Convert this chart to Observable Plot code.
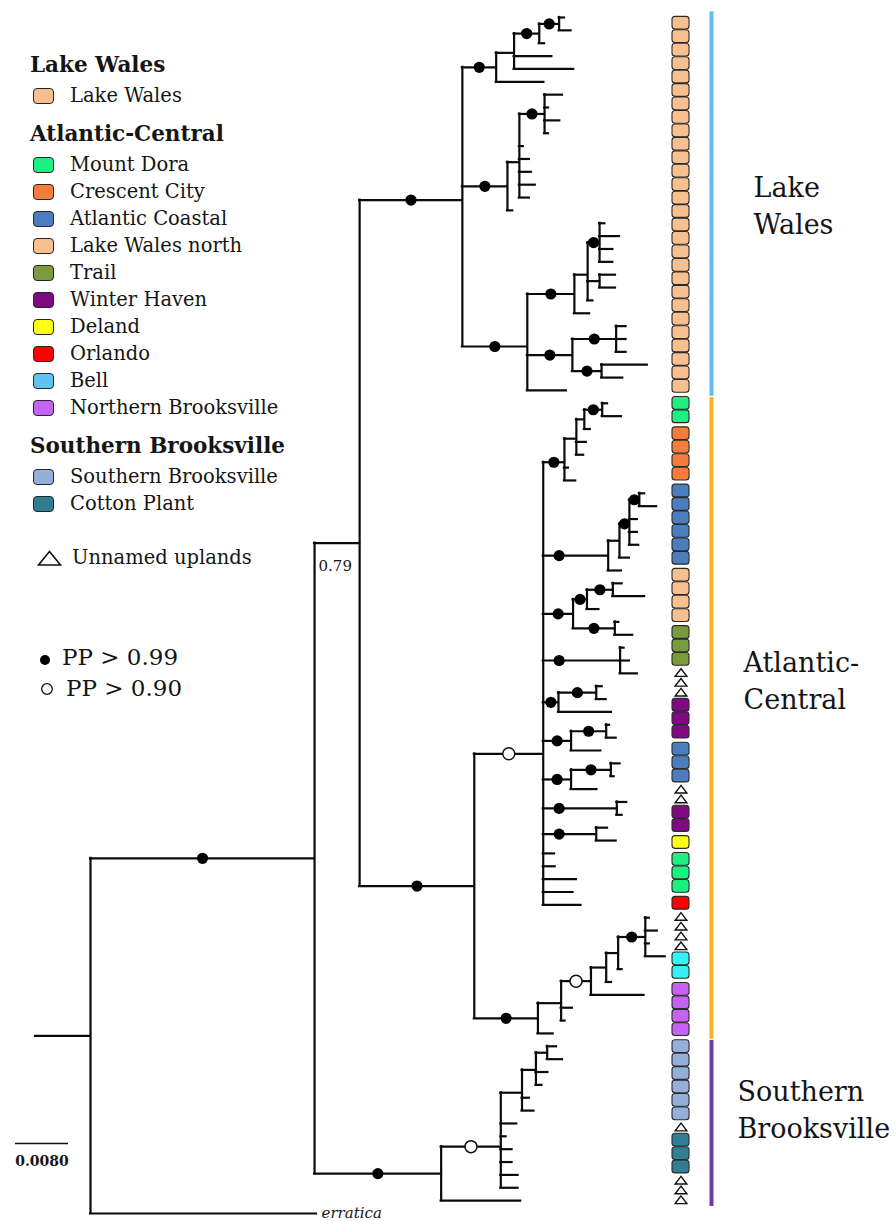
<!DOCTYPE html>
<html>
<head>
<meta charset="utf-8">
<script src="https://cdn.jsdelivr.net/npm/d3@7"></script>
<script src="https://cdn.jsdelivr.net/npm/@observablehq/plot@0.6"></script>
<style>
  html,body{margin:0;padding:0;background:#fff;}
  #wrap{position:relative;width:896px;height:1221px;overflow:hidden;font-family:"DejaVu Serif",serif;color:#151515;}
  #chart svg{display:block}
  .lg{position:absolute;white-space:nowrap;}
</style>
</head>
<body>
<div id="wrap"><div id="chart"></div></div>
<script>
// ---------------- DATA ----------------
// Tree in Newick pieces; branch lengths in 1e-4 substitutions/site, node labels = posterior probability
const lakeWalesA = "((((:8,:18)1:30,:8)1:38,:57,:90):27,:72)1:51";
const lakeWalesB = "(((:27,:6,:23,:6)1:38,:6,:15,:18,:24,:15):18,:8)1:68";
const lakeWalesC = "((((:8,:30,:20,:20)1:18,(:24,:24):18,:8):20,:23)1:71,((:15,:15,:15)1:66,(:69,:32)1:44)1:68,:59)1:98";
const acMountDora = "((((:8,:29)1:27,:9):12,:15,:11):18,:6,:17)1:32";
const acCoastal = "((((:8,:26)1:15,:12,:12,:14)1:15,:15):17,:20)1:98";
const acLakeWalesNorth = "(((:14,:48)1:39,:18)1:21,(:6,:27)1:63)1:45";
const acTrail = "(:6,:14,:26)1:116";
const acUplands = "((:9,:15)1:57,:80)1:23";
const acWinterHaven = "((:5,:15)1:53,:45)1:42";
const acCoastal2 = "((:14,:5)1:60,:39)1:42";
const acUplands2 = "(:15,:8)1:111";
const acWinterHaven2 = "(:17,:30)1:80";
const acSingles = [":17", ":18", ":50", ":45", ":57"];
const northern = "((((((:6,:18,:6,:30)1:41,:6):18,:8):23,:80)0.95:45,:17,:6):35,:23)1:96";
const southern = "(((((:14,:23):17,:18,:9):21,:11,:18):32,:24,:8,:17,:17,:26,:26)0.95:90,:120)1:191";

const lakeWales = "(" + [lakeWalesA, lakeWalesB, lakeWalesC].join(",") + ")1:155";
const polytomy = "(" + [acMountDora, acCoastal, acLakeWalesNorth, acTrail, acUplands, acWinterHaven,
  acCoastal2, acUplands2, acWinterHaven2, ...acSingles].join(",") + ")0.95:104";
const atlanticCentral = "(" + polytomy + "," + northern + ")1:173";
const newick = "(((" + lakeWales + "," + atlanticCentral + ")0.79:68," + southern + ")1:338,erratica:341):83;";

// Tip strip: population of each sample (U = unnamed uplands)
const tileGroups = [["LW",28],["MD",2],["CC",4],["AC",6],["LWN",4],["TR",3],["U",3],["WH",3],["AC",3],
  ["U",2],["WH",2],["DE",1],["MD",3],["OR",1],["U",4],["BE",2],["NB",4],["SB",6],["U",1],["CP",3],["U",3]];

const categoryCodes  = ["LW","MD","CC","AC","LWN","TR","WH","DE","OR","BE","NB","SB","CP"];
const categoryNames  = ["Lake Wales","Mount Dora","Crescent City","Atlantic Coastal","Lake Wales north","Trail",
  "Winter Haven","Deland","Orlando","Bell","Northern Brooksville","Southern Brooksville","Cotton Plant"];
const categoryColors = ["#f9c08f","#1cf07f","#f57d3b","#4b7dbf","#f9c08f","#799b3c",
  "#7e0a82","#ffff14","#fe0000","#36eff7","#c462f4","#94afd8","#2f7e93"];
const legendColors   = ["#f9c08f","#1cf07f","#f57d3b","#4b7dbf","#f9c08f","#799b3c",
  "#7e0a82","#ffff14","#fe0000","#5ec5f3","#c462f4","#94afd8","#2f7e93"];

const legendTitles = ["Lake Wales", "Atlantic-Central", "Southern Brooksville"];
const legendItems  = [["LW"], ["MD","CC","AC","LWN","TR","WH","DE","OR","BE","NB"], ["SB","CP"]];

const cladeNames  = ["Lake\nWales", "Atlantic-\nCentral", "Southern\nBrooksville"];
const cladeColors = ["#5fbff0", "#f5b520", "#6c3d9f"];
const scaleBarValue = 80; // 0.0080 subs/site in 1e-4 units
const scaleBarLabel = "0.0080";

// ---------------- PARSE / LAYOUT ----------------
function parseNewick(s) {
  let i = 0;
  function node() {
    const n = {children: [], name: "", label: "", length: 0};
    if (s[i] === "(") {
      i++;
      n.children.push(node());
      while (s[i] === ",") { i++; n.children.push(node()); }
      i++;
    }
    let tok = "";
    while (i < s.length && !",():;".includes(s[i])) tok += s[i++];
    if (n.children.length) n.label = tok; else n.name = tok;
    if (s[i] === ":") { i++; let num = ""; while (i < s.length && !",();".includes(s[i])) num += s[i++]; n.length = +num; }
    return n;
  }
  return node();
}
const root = parseNewick(newick);
let tipCount = 0;
const all = [];
(function lay(n, base, parent) {
  n.parent = parent; n.depth = base + n.length; all.push(n);
  if (!n.children.length) n.y = tipCount++;
  else { n.children.forEach(c => lay(c, n.depth, n)); n.y = d3.mean(n.children, c => c.y); }
})(root, 0, null);
if (tipCount !== 94) throw new Error("tip count " + tipCount);

const leaves = n => n.children.length ? n.children.flatMap(leaves) : [n];
const internal = all.filter(n => n.children.length);
const tips = all.filter(n => !n.children.length);
const hBranches = all.map(n => ({x1: n.parent ? n.parent.depth : 0, x2: n.depth, y: n.y}));
const vBranches = internal.map(n => ({x: n.depth, y1: n.children[0].y, y2: n.children[n.children.length - 1].y}));
const supports = internal.filter(n => n.parent && n.label !== "").map(n => {
  const p = n.parent, half = n.length / 2;
  const off = p.children.length > 3 ? Math.min(half, 24) : half;
  return {x: p.depth + off, px: p.depth, y: n.y, pp: +n.label};
});

// layout constants
const ROW = 12.86;
const X0 = 35, X1 = 670, D1 = 958;
const xAt = px => (px - X0) * D1 / (X1 - X0);
const yAt = px => (px - 17) / ROW;

// tip strip layout
const tiles = [], tris = [];
{
  let cur = 16, prev = null;
  const s = 13.45, t = 9.8, g = 3.5, g2 = 1.5;
  for (const [cat, count] of tileGroups) {
    if (prev) cur += (prev !== "U" && cat !== "U") ? g : g2;
    for (let k = 0; k < count; k++) {
      if (cat === "U") { tris.push({y: yAt(cur + t / 2)}); cur += t; }
      else {
        const ci = categoryCodes.indexOf(cat);
        tiles.push({cat, color: categoryColors[ci], y1: yAt(cur + 0.35), y2: yAt(cur + s - 0.35)});
        cur += s;
      }
    }
    prev = cat;
  }
}

// clades
const I = root.children[0], A = I.children[0];
const cladeNodes = [A.children[0], A.children[1], I.children[1]];
const labelShift = [0, -3.1, -1.2];
const labelX = [753, 743, 737];
const clades = cladeNodes.map((n, i) => {
  const ys = leaves(n).map(l => l.y);
  const y1 = d3.min(ys) - 0.45, y2 = d3.max(ys) + 0.45;
  return {name: cladeNames[i], color: cladeColors[i], y1, y2, ym: (y1 + y2) / 2 + labelShift[i], lx: xAt(labelX[i])};
});

const flatTri = {draw(ctx, size) { const r = Math.sqrt(size / Math.PI); const hw = r * 1.3, hh = r * 0.85;
  ctx.moveTo(0, -hh); ctx.lineTo(hw, hh); ctx.lineTo(-hw, hh); ctx.closePath(); }};

const colA = xAt(672), colB = xAt(689), colC = xAt(680.5), barX = xAt(711);
const sbX = xAt(15);

const chart = Plot.plot({
  width: 896, height: 1221,
  marginTop: 0, marginRight: 0, marginBottom: 0, marginLeft: 0,
  x: {type: "linear", domain: [0, D1], range: [X0, X1], axis: null},
  y: {type: "linear", domain: [0, 93], range: [17, 17 + 93 * ROW], axis: null},
  color: {type: "identity"},
  style: {background: "#fff", fontFamily: "DejaVu Serif", color: "#151515"},
  marks: [
    Plot.ruleY(hBranches, {y: "y", x1: "x1", x2: "x2", stroke: "#0a0a0a", strokeWidth: 2.2, strokeLinecap: "square"}),
    Plot.ruleX(vBranches, {x: "x", y1: "y1", y2: "y2", stroke: "#0a0a0a", strokeWidth: 2.2, strokeLinecap: "square"}),
    Plot.dot(supports.filter(d => d.pp >= 0.99), {x: "x", y: "y", r: 5.6, fill: "#000", stroke: "none"}),
    Plot.dot(supports.filter(d => d.pp >= 0.9 && d.pp < 0.99), {x: "x", y: "y", r: 6, fill: "#fff", stroke: "#111", strokeWidth: 1.5}),
    Plot.text(supports.filter(d => d.pp < 0.9), {x: "px", y: "y", text: d => d.pp.toFixed(2), dx: 4, dy: 23, textAnchor: "start", fontSize: 15, fill: "#151515"}),
    Plot.text(tips.filter(d => d.name), {x: "depth", y: "y", text: "name", dx: 5, textAnchor: "start", fontStyle: "italic", fontSize: 15, fill: "#151515"}),
    Plot.rect(tiles, {x1: () => colA, x2: () => colB, y1: "y1", y2: "y2", fill: "color", stroke: "#2a2a2a", strokeWidth: 1.1, rx: 3}),
    Plot.dot(tris, {x: () => colC, y: "y", symbol: flatTri, r: 4.5, fill: "#fff", stroke: "#111", strokeWidth: 1.4}),
    Plot.ruleX(clades, {x: () => barX, y1: "y1", y2: "y2", stroke: "color", strokeWidth: 4}),
    Plot.text(clades, {x: "lx", y: "ym", text: "name", textAnchor: "start", fontSize: 27, lineHeight: 1.37, fill: "#151515"}),
    Plot.ruleY([scaleBarValue], {y: () => yAt(1143), x1: () => sbX, x2: d => sbX + d, stroke: "#111", strokeWidth: 1.5}),
    Plot.text([scaleBarLabel], {x: () => sbX + scaleBarValue / 2, y: () => yAt(1161), text: d => d, fontSize: 14, fontWeight: "bold", fill: "#151515"})
  ]
});
document.getElementById("chart").appendChild(chart);

// ---------------- LEGEND (HTML overlay) ----------------
const wrap = document.getElementById("wrap");
function put(text, left, cy, size, extra = "") {
  const d = document.createElement("div");
  d.className = "lg";
  d.style.cssText = `left:${left}px;top:${cy - size / 2}px;height:${size}px;line-height:${size}px;font-size:${size}px;${extra}`;
  d.textContent = text;
  wrap.appendChild(d);
}
function swatch(color, left, cy) {
  const d = document.createElement("div");
  d.style.cssText = `position:absolute;left:${left}px;top:${cy - 8}px;width:19px;height:14px;background:${color};border:1.5px solid #262626;border-radius:4px;`;
  wrap.appendChild(d);
}
function svgIcon(inner, left, cy, w, h) {
  const d = document.createElement("div");
  d.style.cssText = `position:absolute;left:${left}px;top:${cy - h / 2}px;width:${w}px;height:${h}px;`;
  d.innerHTML = `<svg width="${w}" height="${h}" viewBox="0 0 ${w} ${h}">${inner}</svg>`;
  wrap.appendChild(d);
}
let cy = 65;
legendTitles.forEach((title, gi) => {
  if (gi > 0) cy += 38;
  put(title, 30, cy, 21.5, "font-weight:bold;");
  cy += 31;
  legendItems[gi].forEach((code, k) => {
    if (k > 0) cy += 27;
    const ci = categoryCodes.indexOf(code);
    swatch(legendColors[ci], 33, cy);
    put(categoryNames[ci], 70, cy, 19.5);
  });
});
svgIcon('<path d="M12.5 1.5 L23.5 15 L1.5 15 Z" fill="#fff" stroke="#111" stroke-width="1.6"/>', 37, 558, 25, 17);
put("Unnamed uplands", 72, 558, 19.5);
svgIcon('<circle cx="6" cy="6" r="5" fill="#000"/>', 39, 657, 12, 12);
put("PP > 0.99", 62, 657, 23);
svgIcon('<circle cx="7" cy="7" r="5.3" fill="#fff" stroke="#111" stroke-width="1.3"/>', 40, 688, 14, 14);
put("PP > 0.90", 66, 688, 23);
</script>
</body>
</html>
